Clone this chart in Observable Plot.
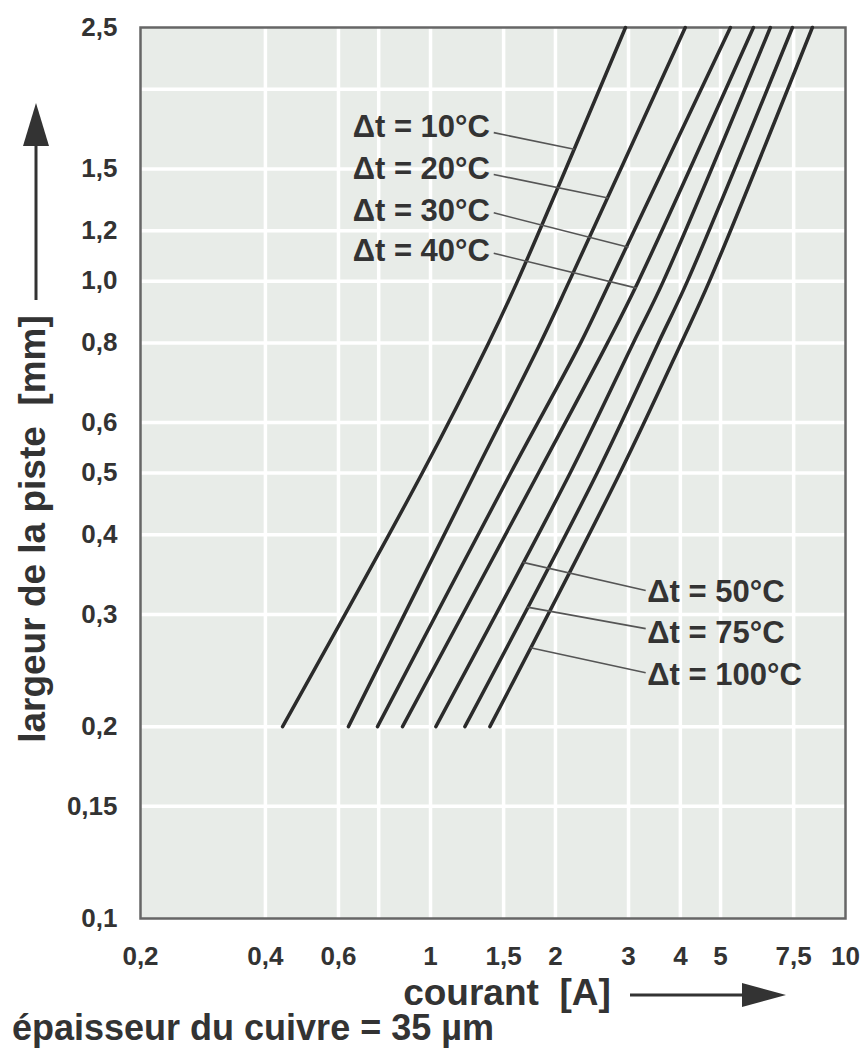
<!DOCTYPE html>
<html><head><meta charset="utf-8">
<script src="https://cdn.jsdelivr.net/npm/d3@7"></script>
<script src="https://cdn.jsdelivr.net/npm/@observablehq/plot@0.6"></script>
<style>
body{margin:0;background:#fff;}
#chart svg{display:block}
#caption{font-family:"Liberation Sans",Arial,sans-serif;font-weight:bold;font-size:36px;color:#333;margin-left:12px;line-height:36px;height:41px;white-space:nowrap}
</style></head><body>
<div id="chart"></div>
<div id="caption">épaisseur du cuivre = 35 µm</div>
<script>
// track width (mm) at which each current was read
const trackWidths = [0.2, 0.5, 0.8, 1.0, 2.5];
const seriesLabels = ["Δt = 10°C", "Δt = 20°C", "Δt = 30°C", "Δt = 40°C", "Δt = 50°C", "Δt = 75°C", "Δt = 100°C"];
// current (A) per series
const current10  = [0.44, 0.955, 1.38, 1.62, 2.95];
const current20  = [0.634, 1.28, 1.84, 2.16, 4.11];
const current30  = [0.745, 1.56, 2.30, 2.71, 5.28];
const current40  = [0.856, 1.82, 2.67, 3.17, 6.0];
const current50  = [1.03, 2.17, 3.08, 3.64, 6.59];
const current75  = [1.21, 2.52, 3.54, 4.16, 7.45];
const current100 = [1.39, 2.86, 4.02, 4.70, 8.32];

const xTicks = [0.2, 0.4, 0.6, 1, 1.5, 2, 3, 4, 5, 7.5, 10];
const xTickLabels = ["0,2", "0,4", "0,6", "1", "1,5", "2", "3", "4", "5", "7,5", "10"];
const yTicks = [0.1, 0.15, 0.2, 0.3, 0.4, 0.5, 0.6, 0.8, 1.0, 1.2, 1.5, 2.5];
const yTickLabels = ["0,1", "0,15", "0,2", "0,3", "0,4", "0,5", "0,6", "0,8", "1,0", "1,2", "1,5", "2,5"];
const xGrid = [0.4, 0.6, 0.75, 1, 1.5, 2, 3, 4, 5, 7.5];
const yGrid = [0.15, 0.2, 0.3, 0.4, 0.5, 0.6, 0.8, 1.0, 1.2, 1.5, 2.0];

// annotation anchors (data units)
const labelX = [1.39, 1.39, 1.39, 1.39, 3.33, 3.33, 3.33];
const labelY = [1.745, 1.50, 1.288, 1.114, 0.325, 0.280, 0.241];
const leaderX1 = [1.42, 1.42, 1.42, 1.42, 1.67, 1.71, 1.74];
const leaderY1 = [1.71, 1.47, 1.28, 1.106, 0.362, 0.308, 0.266];
const leaderX2 = [2.22, 2.68, 3.00, 3.14, 3.30, 3.30, 3.30];
const leaderY2 = [1.61, 1.35, 1.13, 0.975, 0.327, 0.285, 0.243];

const allSeries = [current10, current20, current30, current40, current50, current75, current100];
const table = allSeries.flatMap((vals, s) => vals.map((v, i) => ({series: seriesLabels[s], current: v, width: trackWidths[i]})));
const labels = seriesLabels.map((t, i) => ({t, x: labelX[i], y: labelY[i]}));
const leaders = seriesLabels.map((t, i) => ({x1: leaderX1[i], y1: leaderY1[i], x2: leaderX2[i], y2: leaderY2[i]}));

const font = '"Liberation Sans", Arial, sans-serif';
const ink = "#333";

const plot = Plot.plot({
  width: 864, height: 1010,
  marginLeft: 140, marginRight: 19, marginTop: 27, marginBottom: 92,
  style: {fontFamily: font, fontWeight: "bold", color: ink, background: "white", overflow: "visible"},
  x: {type: "log", domain: [0.2, 10], axis: null},
  y: {type: "log", domain: [0.1, 2.5], axis: null},
  marks: [
    Plot.frame({fill: "#e8ece8", stroke: "none"}),
    Plot.ruleX(xGrid, {stroke: "white", strokeWidth: 3.5}),
    Plot.ruleY(yGrid, {stroke: "white", strokeWidth: 3.5}),
    Plot.frame({stroke: "#666", strokeWidth: 2.5}),
    Plot.text(xTicks, {x: d => d, text: (d, i) => xTickLabels[i], frameAnchor: "bottom", lineAnchor: "top", dy: 28, fontSize: 26, fontWeight: "bold", fill: ink}),
    Plot.text(yTicks, {y: d => d, text: (d, i) => yTickLabels[i], frameAnchor: "left", textAnchor: "end", dx: -23, fontSize: 26, fontWeight: "bold", fill: ink}),
    Plot.line(table, {x: "current", y: "width", z: "series", curve: "catmull-rom", stroke: "#2b2b2b", strokeWidth: 3.5}),
    Plot.link(leaders, {x1: "x1", y1: "y1", x2: "x2", y2: "y2", stroke: "#555", strokeWidth: 1.6}),
    Plot.text(labels.slice(0, 4), {x: "x", y: "y", text: "t", textAnchor: "end", fontSize: 31, fontWeight: "bold", fill: ink}),
    Plot.text(labels.slice(4), {x: "x", y: "y", text: "t", textAnchor: "start", fontSize: 31, fontWeight: "bold", fill: ink})
  ]
});

const svg = d3.select(plot);
// x-axis title and arrow
svg.append("text").attr("x", 507).attr("y", 1005).attr("text-anchor", "middle")
  .attr("font-size", 37).attr("font-weight", "bold").attr("fill", ink).attr("font-family", font)
  .text("courant\u00a0\u00a0[A]");
svg.append("path").attr("d", "M630,995H746").attr("stroke", ink).attr("stroke-width", 3);
svg.append("path").attr("d", "M742,983L786,995L742,1007Z").attr("fill", ink);
// y-axis title and arrow
svg.append("text").attr("transform", "translate(45,529) rotate(-90)").attr("text-anchor", "middle")
  .attr("font-size", 37).attr("font-weight", "bold").attr("fill", ink).attr("font-family", font)
  .text("largeur de la piste\u00a0\u00a0[mm]");
svg.append("path").attr("d", "M36,300V140").attr("stroke", ink).attr("stroke-width", 3);
svg.append("path").attr("d", "M23,146L36,103L49,146Z").attr("fill", ink);

document.getElementById("chart").appendChild(plot);
</script>
</body></html>
